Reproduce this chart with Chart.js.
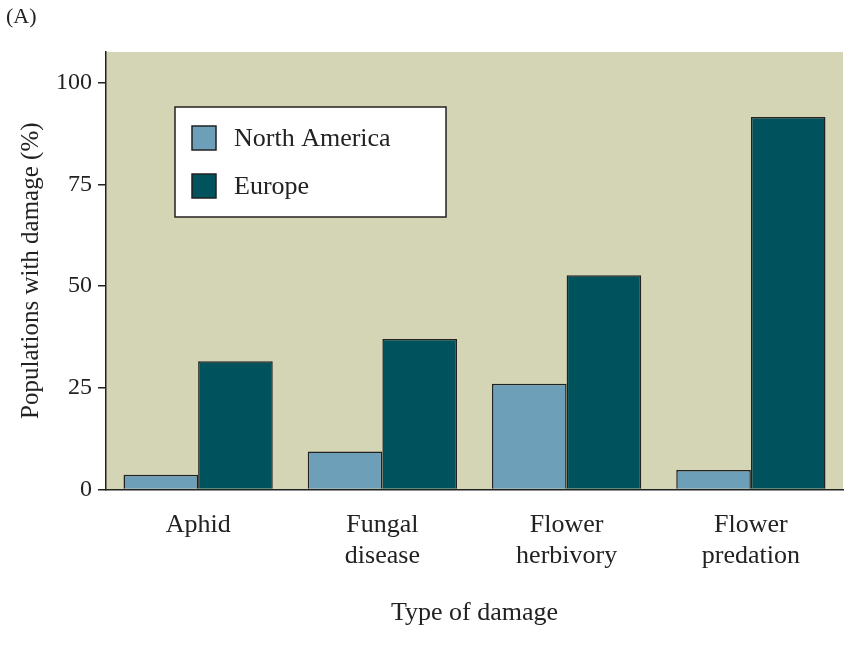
<!DOCTYPE html>
<html><head><meta charset="utf-8">
<script src="https://cdn.jsdelivr.net/npm/chart.js@4"></script>
<style>body{margin:0;background:#fff}#wrap{width:859px;height:647px}</style>
</head><body><div id="wrap"><canvas id="c"></canvas></div>
<script>
const categories = [['Aphid'], ['Fungal', 'disease'], ['Flower', 'herbivory'], ['Flower', 'predation']]
const northAmerica = [3.6, 9.3, 26, 4.8]
const europe = [31.5, 37, 52.7, 91.6]
const seriesNames = ['North America', 'Europe']
const colors = ['#6d9fb9', '#00525c']
const FONT = 'Liberation Serif'

// plot background + legend box drawn inside the plot area
const paper = {
  id: 'paper',
  beforeDraw(chart) {
    const { ctx, chartArea: a } = chart
    ctx.save()
    ctx.fillStyle = '#d4d5b5'
    ctx.fillRect(a.left, a.top, a.right - a.left, a.bottom - a.top)
    ctx.restore()
  },
  afterDraw(chart) {
    const { ctx } = chart
    ctx.save()
    ctx.fillStyle = '#fff'; ctx.strokeStyle = '#222'; ctx.lineWidth = 1.5
    ctx.fillRect(175, 107, 271, 110); ctx.strokeRect(175, 107, 271, 110)
    seriesNames.forEach((n, i) => {
      const y = 126 + i * 48
      ctx.fillStyle = colors[i]; ctx.fillRect(192, y, 24, 24); ctx.strokeRect(192, y, 24, 24)
      ctx.fillStyle = '#222'; ctx.font = '26px "' + FONT + '"'; ctx.textBaseline = 'middle'
      ctx.fillText(n, 234, y + 13)
    })
    ctx.font = '22px "' + FONT + '"'; ctx.textBaseline = 'top'
    ctx.fillText('(A)', 6, 6)
    ctx.restore()
  }
}

new Chart(document.getElementById('c'), {
  type: 'bar',
  data: {
    labels: categories,
    datasets: [
      { label: seriesNames[0], data: northAmerica, backgroundColor: colors[0], borderColor: '#222', borderWidth: 1.5 },
      { label: seriesNames[1], data: europe, backgroundColor: colors[1], borderColor: '#222', borderWidth: 1.5 }
    ]
  },
  plugins: [paper],
  options: {
    responsive: true, maintainAspectRatio: false, animation: false,
    layout: { padding: { top: 52, right: 16, left: 12, bottom: 14 } },
    datasets: { bar: { categoryPercentage: 0.81, barPercentage: 1 } },
    plugins: { legend: { display: false }, tooltip: { enabled: false } },
    scales: {
      x: {
        grid: { display: false, drawTicks: false },
        border: { color: '#222', width: 1.5 },
        ticks: { color: '#222', font: { family: FONT, size: 26 }, padding: 20 },
        title: { display: true, text: 'Type of damage', color: '#222', font: { family: FONT, size: 26 }, padding: { top: 6 } }
      },
      y: {
        min: 0, max: 107.6,
        afterBuildTicks(s) { s.ticks = [0, 25, 50, 75, 100].map(v => ({ value: v })) },
        grid: { display: true, drawOnChartArea: false, drawTicks: true, tickLength: 8, color: '#222', lineWidth: 1.5 },
        border: { color: '#222', width: 1.5 },
        ticks: { color: '#222', font: { family: FONT, size: 24 }, padding: 6 },
        title: { display: true, text: 'Populations with damage (%)', color: '#222', font: { family: FONT, size: 25 }, padding: { bottom: 4 } }
      }
    }
  }
})
</script></body></html>
